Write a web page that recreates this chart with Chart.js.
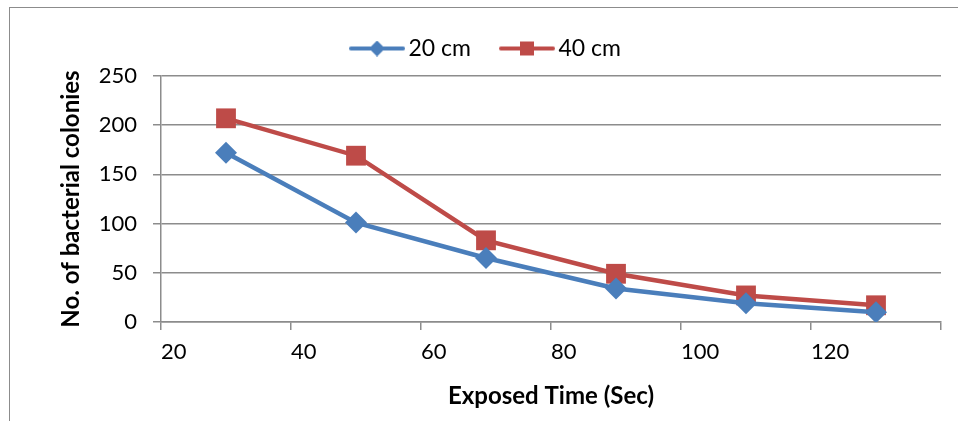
<!DOCTYPE html>
<html>
<head>
<meta charset="utf-8">
<script src="https://cdn.jsdelivr.net/npm/chart.js@4"></script>
<style>
  html, body { margin: 0; padding: 0; background: #fff; }
  .wrap { position: relative; width: 958px; height: 421px; }
  .frame { position: absolute; left: 9px; top: 7px; right: -5px; bottom: -5px; border: 1.5px solid #8c8c8c; }
  canvas { position: absolute; left: 0; top: 0; }
</style>
</head>
<body>
<div class="wrap">
  <div class="frame"></div>
  <canvas id="colonyChart" width="958" height="421"></canvas>
</div>
<script>
  const times = [30, 50, 70, 90, 110, 130];
  const colonies20 = [172, 101, 65, 34, 19, 10];
  const colonies40 = [207, 169, 83, 49, 27, 17];
  const seriesNames = ['20 cm', '40 cm'];

  const blue = '#4a7ebb';
  const red = '#be4b48';
  const font = 'Lato, "Open Sans", sans-serif';

  // legend swatch: line with marker in the middle
  function swatch(color, marker) {
    const c = document.createElement('canvas');
    c.width = 56; c.height = 16;
    const g = c.getContext('2d');
    g.strokeStyle = color; g.lineWidth = 4; g.lineCap = 'round';
    g.beginPath(); g.moveTo(2, 8); g.lineTo(54, 8); g.stroke();
    g.fillStyle = color;
    if (marker === 'diamond') {
      g.beginPath(); g.moveTo(28, 0); g.lineTo(36, 8); g.lineTo(28, 16); g.lineTo(20, 8); g.closePath(); g.fill();
    } else {
      g.fillRect(21, 1, 14, 14);
    }
    return c;
  }

  const pairs = (xs, ys) => xs.map((x, i) => ({ x: x, y: ys[i] }));

  // a bit more room under the legend, and nudge it left like the original
  const legendTweak = {
    id: 'legendTweak',
    beforeUpdate(chart) {
      const lg = chart.legend;
      if (lg && !lg._wrapped) {
        const fit = lg.fit;
        lg.fit = function () { fit.call(this); this.height += 6; };
        lg._wrapped = true;
      }
    },
    beforeDraw(chart) {
      const lg = chart.legend;
      if (lg && !lg._shifted) { lg.left -= 10; lg.right -= 10; lg._shifted = true; }
    }
  };

  new Chart(document.getElementById('colonyChart'), {
    type: 'line',
    data: {
      datasets: [{
        label: seriesNames[0],
        data: pairs(times, colonies20),
        borderColor: blue,
        backgroundColor: blue,
        borderWidth: 4.5,
        pointStyle: 'rectRot',
        pointRadius: 11,
        pointBorderWidth: 0,
        legendIcon: swatch(blue, 'diamond')
      }, {
        label: seriesNames[1],
        data: pairs(times, colonies40),
        borderColor: red,
        backgroundColor: red,
        borderWidth: 4.5,
        pointStyle: 'rect',
        pointRadius: 14,
        pointBorderWidth: 0,
        legendIcon: swatch(red, 'square')
      }]
    },
    plugins: [legendTweak],
    options: {
      responsive: false,
      animation: false,
      layout: { padding: { left: 57, right: 17, top: 1, bottom: 10 } },
      plugins: {
        tooltip: { enabled: false },
        legend: {
          position: 'top',
          labels: {
            usePointStyle: true,
            pointStyleWidth: 40,
            boxHeight: 16,
            padding: 36,
            color: '#000',
            font: { family: font, size: 23 },
            generateLabels: (chart) => chart.data.datasets.map((ds, i) => ({
              text: ds.label,
              pointStyle: ds.legendIcon,
              fillStyle: ds.borderColor,
              strokeStyle: ds.borderColor,
              lineWidth: 0,
              datasetIndex: i,
              fontColor: '#000'
            }))
          }
        }
      },
      scales: {
        x: {
          type: 'linear',
          min: 20,
          max: 140,
          afterFit: (s) => { s.height = 89; },
          ticks: {
            stepSize: 20,
            align: 'start',
            padding: 9,
            color: '#000',
            maxRotation: 0,
            font: { family: font, size: 22 },
            callback: (v) => (v === 140 ? '' : v)
          },
          grid: { drawOnChartArea: false, drawTicks: true, tickLength: 8, color: '#8c8c8c', lineWidth: 1.5 },
          border: { color: '#8c8c8c', width: 1.5 },
          title: {
            display: true,
            text: 'Exposed Time (Sec)',
            color: '#000',
            font: { family: font, size: 24, weight: 'bold' },
            padding: { top: 4, bottom: 0 }
          }
        },
        y: {
          min: 0,
          max: 250,
          afterFit: (s) => { s.width = 104; },
          ticks: {
            stepSize: 50,
            padding: 16,
            color: '#000',
            font: { family: font, size: 22 }
          },
          grid: { color: '#8c8c8c', lineWidth: 1.5, tickLength: 8 },
          border: { color: '#8c8c8c', width: 1.5 },
          title: {
            display: true,
            text: 'No. of bacterial colonies',
            color: '#000',
            font: { family: font, size: 24, weight: 'bold' },
            padding: { top: 0, bottom: 4 }
          }
        }
      }
    }
  });
</script>
</body>
</html>
